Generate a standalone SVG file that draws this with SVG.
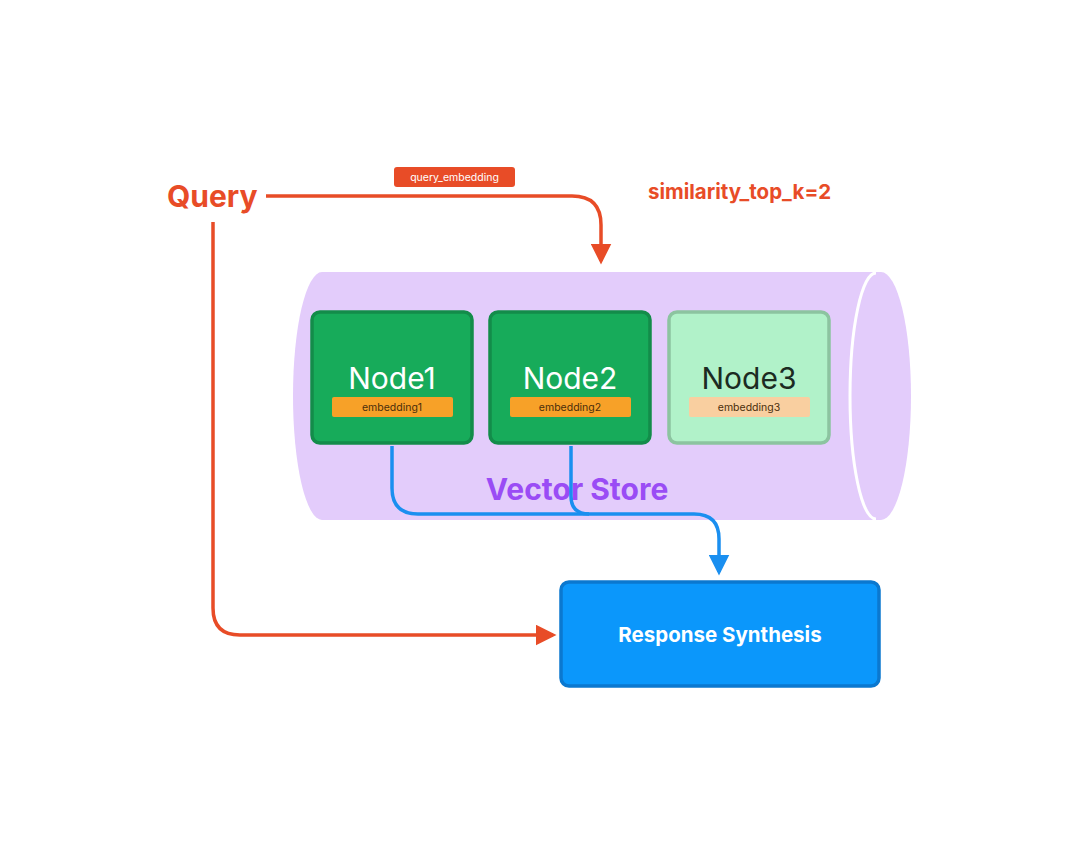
<svg xmlns="http://www.w3.org/2000/svg" width="1080" height="856" viewBox="0 0 1080 856">
<defs>
<style>
.sans{font-family:Inter,"Noto Sans","Liberation Sans",sans-serif}
.node{stroke-width:3.5}
.dark{fill:#17ab5a;stroke:#138c4a}
.light{fill:#b1f2c9;stroke:#8cc4a0}
.nlabel{font-size:30px;text-anchor:middle}
.emb{font-size:10.5px;text-anchor:middle;fill:#4a2e0c}
.red{stroke:#e84c27;stroke-width:3.5;fill:none}
.blue{stroke:#1a8ff0;stroke-width:3.5;fill:none}
</style>
<marker id="ar" markerWidth="6" markerHeight="6" refX="5" refY="3" orient="auto" markerUnits="strokeWidth"><path d="M0,0 L6,3 L0,6 Z" fill="#e84c27"/></marker>
<marker id="ab" markerWidth="6" markerHeight="6" refX="5" refY="3" orient="auto" markerUnits="strokeWidth"><path d="M0,0 L6,3 L0,6 Z" fill="#1a8ff0"/></marker>
</defs>
<rect width="1080" height="856" fill="#ffffff"/>
<g id="vector-store">
<path d="M322,272 L881,272 L881,520 L322,520 A29,124 0 0 1 322,272 Z" fill="#e3ccfb"/>
<ellipse cx="881" cy="396" rx="30" ry="124" fill="#e3ccfb"/>
<path d="M876,273 A26,123 0 0 0 876,519" fill="none" stroke="#ffffff" stroke-width="3"/>
<text x="577" y="500" class="sans" font-size="30" font-weight="700" fill="#9a4cf5" text-anchor="middle">Vector Store</text>
</g>
<g id="connectors">
<path class="red" d="M266,196 L572,196 Q601,196 601,225 L601,261" marker-end="url(#ar)"/>
<path class="red" d="M213,222 L213,608 Q213,635 240,635 L553,635" marker-end="url(#ar)"/>
<path class="blue" d="M392,446 L392,488 Q392,514 418,514 L694,514 Q719,514 719,539 L719,572" marker-end="url(#ab)"/>
<path class="blue" d="M571,446 L571,496 Q571,514 589,514"/>
</g>
<g id="node1">
<rect class="node dark" x="312" y="312" width="160" height="131" rx="8"/>
<text class="sans nlabel" x="392" y="389" fill="#ffffff">Node1</text>
<rect x="332" y="397" width="121" height="20" rx="2" fill="#f7a128"/>
<text class="sans emb" x="392" y="411">embedding1</text>
</g>
<g id="node2">
<rect class="node dark" x="490" y="312" width="160" height="131" rx="8"/>
<text class="sans nlabel" x="570" y="389" fill="#ffffff">Node2</text>
<rect x="510" y="397" width="121" height="20" rx="2" fill="#f7a128"/>
<text class="sans emb" x="570" y="411">embedding2</text>
</g>
<g id="node3">
<rect class="node light" x="669" y="312" width="160" height="131" rx="8"/>
<text class="sans nlabel" x="749" y="389" fill="#1c2b22">Node3</text>
<rect x="689" y="397" width="121" height="20" rx="2" fill="#f9cfa0"/>
<text class="sans emb" x="749" y="411">embedding3</text>
</g>
<g id="query">
<text x="167" y="207" class="sans" font-size="30" font-weight="700" fill="#e84c27">Query</text>
</g>
<g id="query-embedding-label">
<rect x="394" y="167" width="121" height="20" rx="3" fill="#e84c27"/>
<text x="454.5" y="181" class="sans" font-size="10.5" fill="#ffffff" text-anchor="middle">query_embedding</text>
</g>
<g id="similarity">
<text x="648" y="199" class="sans" font-size="20.5" font-weight="700" fill="#e84c27">similarity_top_k=2</text>
</g>
<g id="response-synthesis">
<rect x="561" y="582" width="318" height="104" rx="8" fill="#0b97fb" stroke="#0b78cf" stroke-width="3.5"/>
<text x="720" y="642" class="sans" font-size="20.5" font-weight="700" fill="#ffffff" text-anchor="middle">Response Synthesis</text>
</g>
</svg>
